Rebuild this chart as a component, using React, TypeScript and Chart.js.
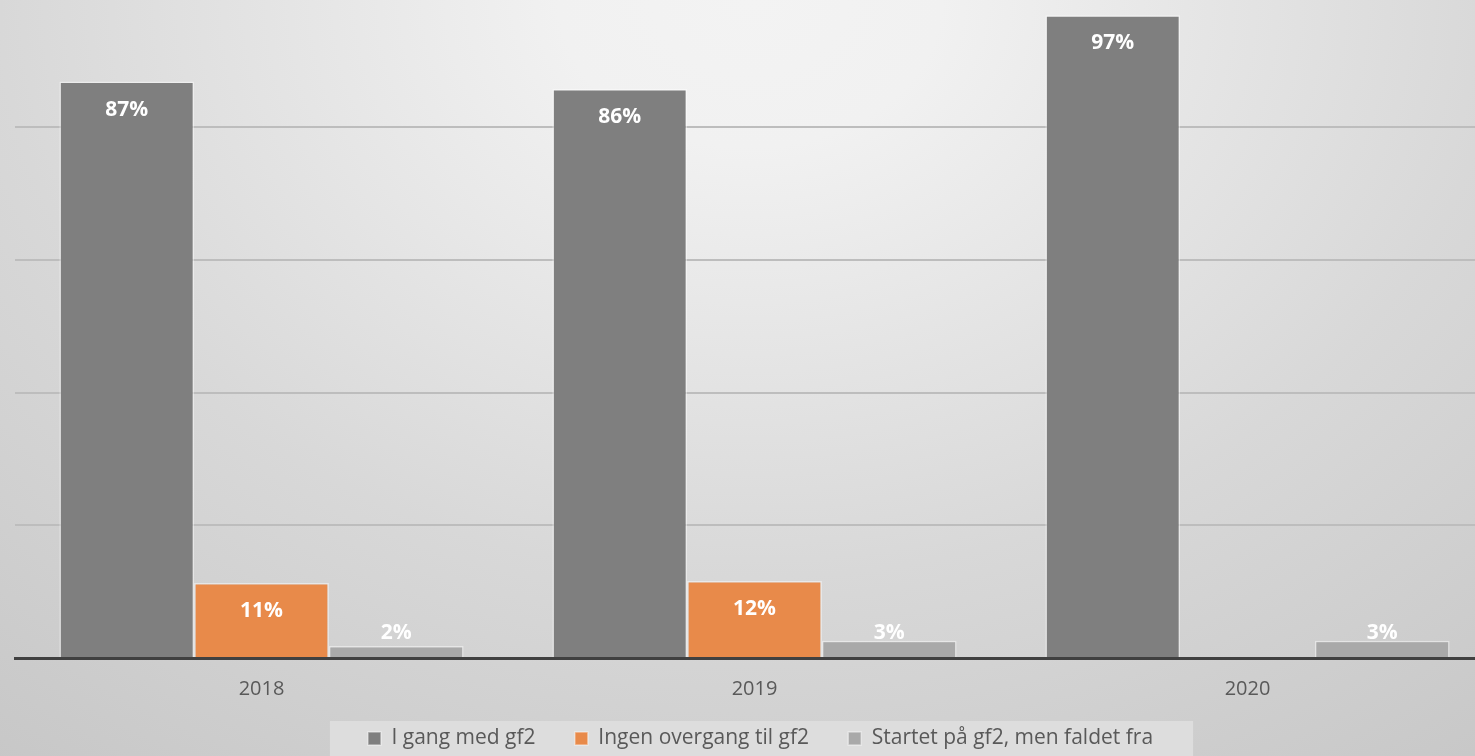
import React, { useEffect, useRef } from "react";
import { Chart, registerables } from "chart.js";

Chart.register(...registerables);

const categories = ["2018", "2019", "2020"];
const seriesNames = ["I gang med gf2", "Ingen overgang til gf2", "Startet på gf2, men faldet fra"];
const iGangMedGf2 = [86.9, 85.8, 96.9];
const ingenOvergang = [11.3, 11.6, 0];
const faldetFra = [1.8, 2.6, 2.6];
const gridValues = [0, 20, 40, 60, 80];
const seriesColors = ["#7f7f7f", "#e88a4a", "#a9a9a9"];

const LEGEND_SHIFT = 6;
const LEGEND_GAP = "     ";

export default function App() {
  const ref = useRef<HTMLCanvasElement | null>(null);

  useEffect(() => {
    document.body.style.margin = "0";
    const canvas = ref.current;
    if (!canvas) return;

    const bgPlugin = {
      id: "bgPlugin",
      afterLayout(chart: any) {
        const lg = chart.legend;
        if (lg) {
          lg.left += LEGEND_SHIFT;
          lg.right += LEGEND_SHIFT;
        }
      },
      beforeDraw(chart: any) {
        const { ctx, width, height } = chart;
        ctx.save();
        const cx = 750;
        const sy = 577 / 750;
        ctx.translate(cx, 0);
        ctx.scale(1, sy);
        const R = 750 * 1.7;
        const g = ctx.createRadialGradient(0, 0, 0, 0, 0, R);
        g.addColorStop(0, "#f3f3f3");
        g.addColorStop(0.15, "#f1f1f1");
        g.addColorStop(1 / 1.7, "#d8d8d8");
        g.addColorStop(1, "#c6c6c6");
        ctx.fillStyle = g;
        ctx.fillRect(-cx - 10, -10, width + 20, height / sy + 20);
        ctx.restore();

        const legend = chart.legend;
        if (legend && legend.legendHitBoxes && legend.legendHitBoxes.length) {
          const boxes = legend.legendHitBoxes;
          let minL = Infinity;
          let maxR = -Infinity;
          boxes.forEach((b: any) => {
            minL = Math.min(minL, b.left);
            maxR = Math.max(maxR, b.left + b.width);
          });
          minL += LEGEND_SHIFT;
          maxR += LEGEND_SHIFT;
          ctx.save();
          ctx.fillStyle = "#dddddd";
          ctx.fillRect(minL - 44, 721, maxR - minL + 78, height - 721);
          ctx.restore();
        }
      },
    };

    const labelPlugin = {
      id: "valueLabels",
      afterDatasetsDraw(chart: any) {
        const { ctx } = chart;
        const baseline = chart.chartArea.bottom;
        ctx.save();
        ctx.font = "bold 21px 'Open Sans', sans-serif";
        ctx.fillStyle = "#ffffff";
        ctx.textAlign = "center";
        ctx.textBaseline = "middle";
        chart.data.datasets.forEach((ds: any, di: number) => {
          const meta = chart.getDatasetMeta(di);
          meta.data.forEach((bar: any, i: number) => {
            const v = ds.data[i];
            if (!v) return;
            const y = Math.min(bar.y + 28, baseline - 24.5);
            ctx.fillText(Math.round(v) + "%", bar.x, y);
          });
        });
        ctx.restore();
      },
    };

    const seriesData = [iGangMedGf2, ingenOvergang, faldetFra];

    const chart = new Chart(canvas, {
      type: "bar",
      data: {
        labels: categories,
        datasets: seriesNames.map((name, i) => ({
          label: name,
          data: seriesData[i],
          backgroundColor: seriesColors[i],
          borderColor: "rgba(255,255,255,0.45)",
          borderWidth: 1.5,
          categoryPercentage: 0.82,
          barPercentage: 1,
        })),
      },
      options: {
        responsive: false,
        animation: false,
        layout: { padding: { left: 15, right: 0, top: 0, bottom: -3 } },
        scales: {
          x: {
            grid: { display: false },
            border: { display: true, color: "#404040", width: 3 },
            ticks: {
              color: "#595959",
              font: { family: "'Open Sans', sans-serif", size: 20 },
              padding: 11,
            },
            afterFit: (s: any) => {
              s.height = 58;
            },
          },
          y: {
            min: 0,
            max: 99.2,
            afterBuildTicks: (s: any) => {
              s.ticks = gridValues.map((v) => ({ value: v }));
            },
            afterFit: (s: any) => {
              s.width = 0;
            },
            ticks: { display: false },
            border: { display: false },
            grid: {
              color: (c: any) => (c.tick && c.tick.value === 0 ? "rgba(0,0,0,0)" : "#bdbdbd"),
              lineWidth: 2,
              drawTicks: false,
            },
          },
        },
        plugins: {
          legend: {
            position: "bottom",
            labels: {
              boxWidth: 13,
              boxHeight: 13,
              padding: 12,
              color: "#595959",
              font: { family: "'Open Sans', sans-serif", size: 21 },
              generateLabels: (c: any) => {
                const items = Chart.defaults.plugins.legend.labels.generateLabels(c);
                return items.map((it: any, idx: number) => ({
                  ...it,
                  text: idx < items.length - 1 ? it.text + LEGEND_GAP : it.text,
                }));
              },
            },
          },
          tooltip: { enabled: false },
        },
      },
      plugins: [bgPlugin, labelPlugin],
    } as any);

    return () => chart.destroy();
  }, []);

  return (
    <div style={{ width: 1475, height: 756, overflow: "hidden", position: "relative" }}>
      <canvas ref={ref} width={1494} height={756} style={{ display: "block" }} />
    </div>
  );
}
